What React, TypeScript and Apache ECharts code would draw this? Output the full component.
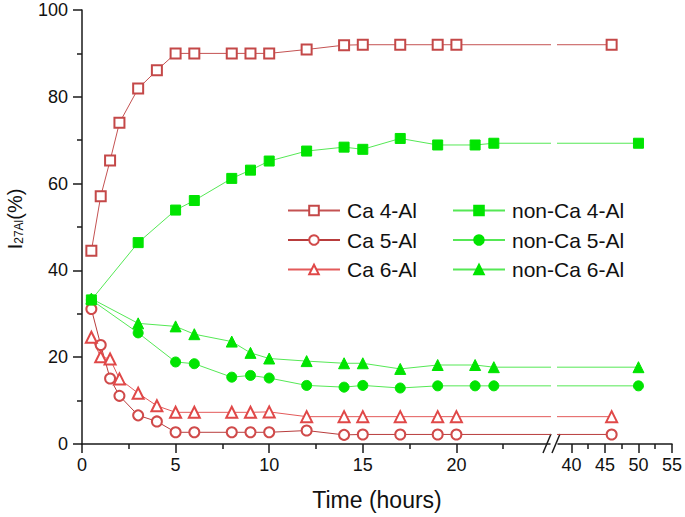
import React, { useEffect, useRef } from "react";
import * as echarts from "echarts";

const caTimes = [0.5, 1, 1.5, 2, 3, 4, 5, 6, 8, 9, 10, 12, 14, 15, 17, 19, 20, 46];
const ca4 = [44.5, 57.1, 65.3, 74.0, 81.9, 86.1, 90, 90, 90, 90, 90, 90.9, 91.9, 92, 92, 92, 92, 92];
const ca5 = [31.1, 22.8, 15.1, 11.1, 6.6, 5.2, 2.7, 2.7, 2.7, 2.7, 2.7, 3.1, 2.1, 2.2, 2.2, 2.2, 2.2, 2.2];
const ca6 = [24.6, 20.1, 19.6, 15.0, 11.7, 8.8, 7.3, 7.3, 7.3, 7.3, 7.4, 6.3, 6.3, 6.3, 6.3, 6.3, 6.3, 6.3];

const nonCaTimes = [0.5, 3, 5, 6, 8, 9, 10, 12, 14, 15, 17, 19, 21, 22, 50];
const non4 = [33.2, 46.4, 53.9, 56.1, 61.2, 63.1, 65.2, 67.5, 68.4, 67.9, 70.4, 68.9, 68.9, 69.3, 69.3];
const non5 = [33.2, 25.6, 18.9, 18.5, 15.4, 15.8, 15.2, 13.5, 13.1, 13.5, 12.9, 13.4, 13.4, 13.4, 13.4];
const non6 = [33.5, 27.8, 27.1, 25.3, 23.6, 21.0, 19.7, 19.1, 18.6, 18.6, 17.3, 18.2, 18.2, 17.7, 17.7];

const leftTickValues = [0, 5, 10, 15, 20];
const rightTickValues = [40, 45, 50, 55];
const rightMinorValues = [42.5, 47.5, 52.5];

const FONT = "'Liberation Sans', Arial, sans-serif";
const AXIS_COLOR = "#1a1a1a";

type Def = { name: string; times: number[]; values: number[]; symbol: string; line: string; mark: string };

const defs: Def[] = [
  { name: "Ca 4-Al", times: caTimes, values: ca4, symbol: "emptyRect", line: "#c45252", mark: "#c44848" },
  { name: "Ca 5-Al", times: caTimes, values: ca5, symbol: "emptyCircle", line: "#b83c3c", mark: "#d04a4a" },
  { name: "Ca 6-Al", times: caTimes, values: ca6, symbol: "emptyTriangle", line: "#e35a5a", mark: "#e04848" },
  { name: "non-Ca 4-Al", times: nonCaTimes, values: non4, symbol: "rect", line: "#55e855", mark: "#00e400" },
  { name: "non-Ca 5-Al", times: nonCaTimes, values: non5, symbol: "circle", line: "#55e855", mark: "#00e400" },
  { name: "non-Ca 6-Al", times: nonCaTimes, values: non6, symbol: "triangle", line: "#55e855", mark: "#00e400" },
];

const tickLine = () => ({ color: AXIS_COLOR, width: 1.5 });

export default function App() {
  const ref = useRef<HTMLDivElement>(null);

  useEffect(() => {
    if (!ref.current) return;
    const chart = echarts.init(ref.current, null, { renderer: "svg" });

    const series: any[] = [];
    defs.forEach((d) => {
      const data = d.times.map((t, i) => [t, d.values[i]]);
      [0, 1].forEach((g) => {
        series.push({
          type: "line",
          name: d.name,
          xAxisIndex: g,
          yAxisIndex: g,
          data,
          clip: true,
          symbol: d.symbol,
          symbolSize: d.symbol.indexOf("riangle") >= 0 ? 11 : 10,
          lineStyle: { color: d.line, width: 1 },
          itemStyle: { color: d.mark, borderColor: d.mark, borderWidth: 1 },
          emphasis: { disabled: true },
        });
      });
    });

    const option: any = {
      animation: false,
      grid: [
        { left: 82, top: 10, width: 468, height: 434 },
        { left: 558, top: 10, width: 114, height: 434 },
        { left: 558, top: 10, width: 114, height: 434 },
      ],
      xAxis: [
        {
          type: "value",
          gridIndex: 0,
          min: 0,
          max: 25,
          interval: 5,
          axisLine: { show: true, lineStyle: tickLine() },
          axisTick: { show: true, length: 9, customValues: leftTickValues, lineStyle: tickLine() },
          minorTick: { show: true, splitNumber: 2, length: 5, lineStyle: tickLine() },
          axisLabel: { customValues: leftTickValues, fontSize: 18, color: "#111", margin: 12, fontFamily: FONT },
          splitLine: { show: false },
        },
        {
          type: "value",
          gridIndex: 1,
          min: 38,
          max: 55,
          axisLine: { show: true, lineStyle: tickLine() },
          axisTick: { show: true, length: 9, customValues: rightTickValues, lineStyle: tickLine() },
          axisLabel: { customValues: rightTickValues, fontSize: 18, color: "#111", margin: 12, fontFamily: FONT },
          splitLine: { show: false },
        },
        {
          type: "value",
          gridIndex: 2,
          min: 38,
          max: 55,
          axisLine: { show: false },
          axisTick: { show: true, length: 5, customValues: rightMinorValues, lineStyle: tickLine() },
          axisLabel: { show: false },
          splitLine: { show: false },
        },
      ],
      yAxis: [
        {
          type: "value",
          gridIndex: 0,
          min: 0,
          max: 100,
          interval: 20,
          axisLine: { show: true, lineStyle: tickLine() },
          axisTick: { show: true, length: 9, lineStyle: tickLine() },
          minorTick: { show: true, splitNumber: 2, length: 5, lineStyle: tickLine() },
          axisLabel: { fontSize: 18, color: "#111", margin: 14, fontFamily: FONT },
          splitLine: { show: false },
        },
        { type: "value", gridIndex: 1, min: 0, max: 100, show: false },
        { type: "value", gridIndex: 2, min: 0, max: 100, show: false },
      ],
      legend: [
        {
          data: defs.slice(0, 3).map((d) => d.name),
          orient: "vertical",
          left: 282,
          top: 195,
          itemWidth: 52,
          itemHeight: 12,
          itemGap: 8.5,
          selectedMode: false,
          textStyle: { fontSize: 21, lineHeight: 20, color: "#111", fontFamily: FONT, padding: [0, 0, 0, 2] },
        },
        {
          data: defs.slice(3).map((d) => d.name),
          orient: "vertical",
          left: 447,
          top: 195,
          itemWidth: 52,
          itemHeight: 12,
          itemGap: 8.5,
          selectedMode: false,
          textStyle: { fontSize: 21, lineHeight: 20, color: "#111", fontFamily: FONT, padding: [0, 0, 0, 2] },
        },
      ],
      graphic: [
        { type: "line", shape: { x1: 543, y1: 453, x2: 551, y2: 434 }, style: { stroke: AXIS_COLOR, lineWidth: 1.5 } },
        { type: "line", shape: { x1: 552, y1: 453, x2: 560, y2: 434 }, style: { stroke: AXIS_COLOR, lineWidth: 1.5 } },
        {
          type: "text",
          x: 377,
          y: 500,
          style: { text: "Time (hours)", fontSize: 23, fontFamily: FONT, fill: "#111", align: "center", verticalAlign: "middle" },
        },
        {
          type: "text",
          x: 15,
          y: 219,
          rotation: Math.PI / 2,
          style: {
            text: "{a|I}{b|27Al}{a|(%)}",
            align: "center",
            verticalAlign: "middle",
            rich: {
              a: { fontSize: 20, lineHeight: 20, fontFamily: FONT, fill: "#111" },
              b: { fontSize: 12, lineHeight: 12, verticalAlign: "bottom", fontFamily: FONT, fill: "#111" },
            },
          },
        },
      ],
      series,
    };

    chart.setOption(option);
    return () => chart.dispose();
  }, []);

  return <div ref={ref} style={{ position: "fixed", left: 0, top: 0, width: 685, height: 517, background: "#fff" }} />;
}
